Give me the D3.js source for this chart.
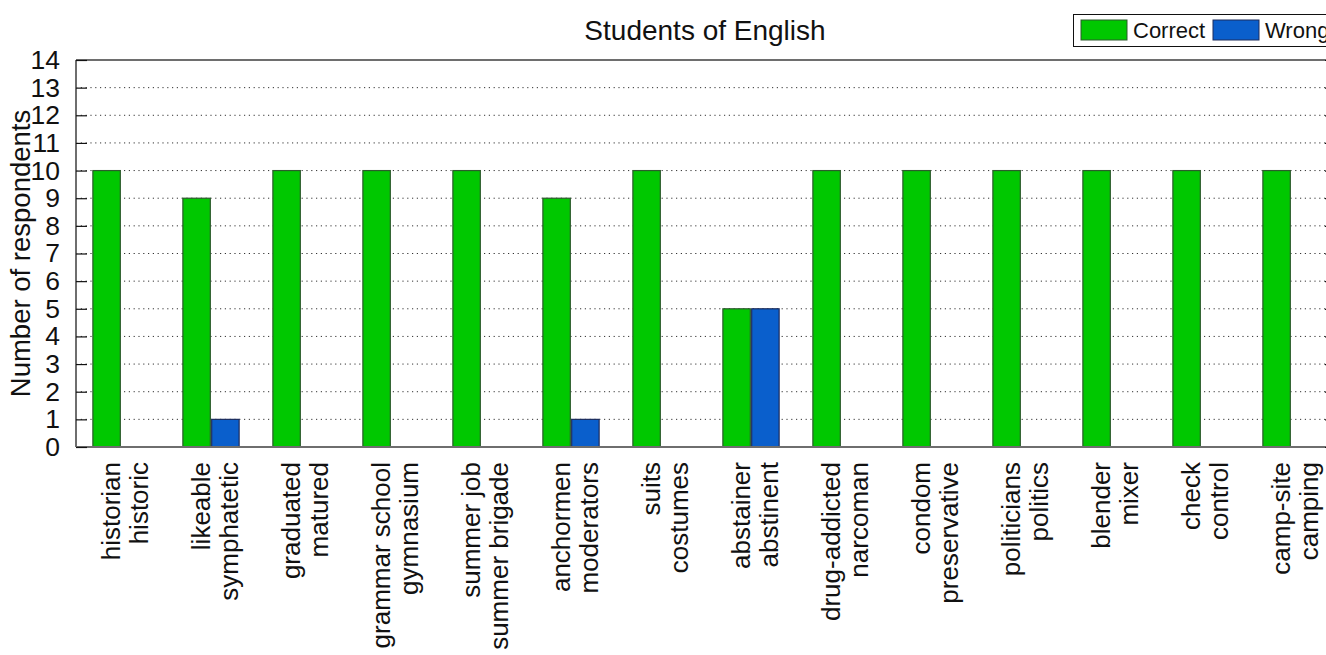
<!DOCTYPE html>
<html>
<head>
<meta charset="utf-8">
<script src="https://cdn.jsdelivr.net/npm/d3@7"></script>
<style>
  html, body { margin: 0; padding: 0; background: #fff; }
  svg { display: block; font-family: "Liberation Sans", Arial, sans-serif; }
</style>
</head>
<body>
<svg id="chart" width="1326" height="655"></svg>
<script>
const line1 = ["historian","likeable","graduated","grammar school","summer job","anchormen","suits","abstainer","drug-addicted","condom","politicians","blender","check","camp-site"];
const line2 = ["historic","symphatetic","matured","gymnasium","summer brigade","moderators","costumes","abstinent","narcoman","preservative","politics","mixer","control","camping"];
const correct = [10,9,10,10,10,9,10,5,10,10,10,10,10,10];
const wrong   = [0,1,0,0,0,1,0,5,0,0,0,0,0,0];
const seriesNames = ["Correct","Wrong"];
const yTicks = d3.range(0, 15);

(function () {
const svg = d3.select("#chart");
const pL = 76, pR = 1336, pT = 60, pB = 447;

const x = d3.scaleLinear().domain([0.5, 14.5]).range([pL, pR]);
const y = d3.scaleLinear().domain([0, 14]).range([pB, pT]);
const colors = ["#00c800", "#0a5fcc"];
const edges = ["#2c5a2c", "#1c2c5c"];

// dotted grid
svg.append("g").selectAll("line").data(yTicks.filter(d => d > 0 && d < 14)).join("line")
  .attr("x1", pL).attr("x2", pR)
  .attr("y1", d => y(d)).attr("y2", d => y(d))
  .attr("stroke", "#333").attr("stroke-width", 1)
  .attr("stroke-dasharray", "1.2,3.6");

// bars
const barW = 0.305;
const offs = [-0.16, 0.16];
[correct, wrong].forEach((vals, s) => {
  svg.append("g").selectAll("rect")
    .data(vals.map((v, i) => ({v, i})).filter(d => d.v > 0))
    .join("rect")
    .attr("x", d => x(d.i + 1 + offs[s] - barW / 2))
    .attr("width", x(barW) - x(0))
    .attr("y", d => y(d.v))
    .attr("height", d => y(0) - y(d.v))
    .attr("fill", colors[s])
    .attr("stroke", edges[s]).attr("stroke-width", 1.2);
});

// frame
[[pL, pR, pT, pT], [pL, pR, pB, pB], [pL, pL, pT, pB], [pR, pR, pT, pB]].forEach(l => {
  svg.append("line").attr("x1", l[0]).attr("x2", l[1]).attr("y1", l[2]).attr("y2", l[3])
    .attr("stroke", "#6e6e6e").attr("stroke-width", 2);
});

// y axis with inward ticks
const yAxis = d3.axisLeft(y).tickValues(yTicks).tickSize(-11).tickPadding(16).tickFormat(d3.format("d"));
const ya = svg.append("g").attr("transform", `translate(${pL},0)`).call(yAxis);
ya.select(".domain").remove();
ya.selectAll(".tick line").attr("stroke", "#111").attr("stroke-width", 1.2);
ya.selectAll(".tick text").attr("font-size", 26.5).attr("fill", "#111")
  .attr("font-family", "Liberation Sans, Arial, sans-serif");
const yAxisR = d3.axisRight(y).tickValues(yTicks).tickSize(-11).tickFormat("");
const yr = svg.append("g").attr("transform", `translate(${pR},0)`).call(yAxisR);
yr.select(".domain").remove();
yr.selectAll(".tick line").attr("stroke", "#111").attr("stroke-width", 1.2);

// x labels (two lines, rotated)
const xl = svg.append("g");
line1.forEach((t, i) => {
  const cx = x(i + 1);
  xl.append("text")
    .attr("transform", `translate(${cx - 1},462) rotate(-90)`)
    .attr("text-anchor", "end").attr("font-size", 26).attr("fill", "#111")
    .text(t);
  xl.append("text")
    .attr("transform", `translate(${cx + 27},462) rotate(-90)`)
    .attr("text-anchor", "end").attr("font-size", 26).attr("fill", "#111")
    .text(line2[i]);
});

// y label
svg.append("text")
  .attr("transform", `translate(30,${(pT + pB) / 2}) rotate(-90)`)
  .attr("text-anchor", "middle").attr("font-size", 27.5).attr("fill", "#111")
  .text("Number of respondents");

// title
svg.append("text")
  .attr("x", 705).attr("y", 40)
  .attr("text-anchor", "middle").attr("font-size", 28).attr("fill", "#111")
  .text("Students of English");

// legend
const lg = svg.append("g");
lg.append("rect").attr("x", 1073.5).attr("y", 14.5).attr("width", 270).attr("height", 32)
  .attr("fill", "#fff").attr("stroke", "#111").attr("stroke-width", 1);
const legX = [1081, 1213];
seriesNames.forEach((n, s) => {
  lg.append("rect").attr("x", legX[s]).attr("y", 20).attr("width", 46).attr("height", 20)
    .attr("fill", colors[s]).attr("stroke", edges[s]).attr("stroke-width", 1);
  lg.append("text").attr("x", legX[s] + 52).attr("y", 38)
    .attr("font-size", 22).attr("fill", "#111").text(n);
});
})();
</script>
</body>
</html>
